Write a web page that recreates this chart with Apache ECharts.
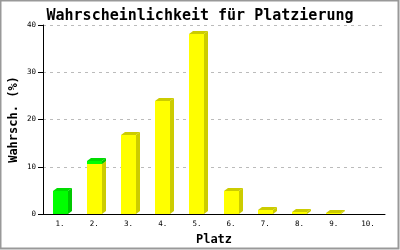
<!DOCTYPE html>
<html>
<head>
<meta charset="utf-8">
<script src="https://cdn.jsdelivr.net/npm/echarts@6/dist/echarts.min.js"></script>
<style>html,body{margin:0;padding:0;background:#fff}#c{width:400px;height:250px}</style>
</head>
<body>
<div id="c"></div>
<script>
var categories = ['1.', '2.', '3.', '4.', '5.', '6.', '7.', '8.', '9.', '10.'];
var yellowValues = [0, 10.6, 16.8, 23.9, 38.1, 4.9, 0.9, 0.4, 0.2, 0];
var greenValues = [4.8, 0.6, 0, 0, 0, 0, 0, 0, 0, 0];
var yTicks = [0, 10, 20, 30, 40];

var MONO = '"DejaVu Sans Mono", "Liberation Mono", monospace';

function makeData(vals, base) {
  return vals.map(function (v, i) {
    var b = base ? base[i] : 0;
    return [i, b, b + v];
  });
}

function render3D(front, side, top) {
  return function (params, api) {
    var i = api.value(0), s = api.value(1), e = api.value(2);
    if (e - s <= 0) return null;
    var p0 = api.coord([i, s]);
    var p1 = api.coord([i, e]);
    var band = api.size([1, 0])[0];
    var w = Math.round(band * 0.44);
    var dx = 4, dy = 3;
    var x = Math.round(p0[0] - w / 2);
    var yb = Math.round(p0[1]), yt = Math.round(p1[1]);
    return {
      type: 'group',
      children: [
        { type: 'polygon', shape: { points: [[x + w, yt], [x + w + dx, yt - dy], [x + w + dx, yb - dy], [x + w, yb]] }, style: { fill: side } },
        { type: 'polygon', shape: { points: [[x, yt], [x + dx, yt - dy], [x + w + dx, yt - dy], [x + w, yt]] }, style: { fill: top } },
        { type: 'rect', shape: { x: x, y: yt, width: w, height: yb - yt }, style: { fill: front } }
      ]
    };
  };
}

var chart = echarts.init(document.getElementById('c'), null, { renderer: 'canvas' });
chart.setOption({
  backgroundColor: '#fff',
  animation: false,
  title: {
    text: 'Wahrscheinlichkeit für Platzierung',
    left: 'center', top: 4,
    textStyle: { fontFamily: MONO, fontWeight: 'bold', fontSize: 15, color: '#000' }
  },
  grid: { left: 43, right: 15, top: 25, bottom: 36, containLabel: false, outerBoundsMode: 'none' },
  xAxis: {
    type: 'category', data: categories,
    name: 'Platz', nameLocation: 'middle', nameGap: 20, nameMoveOverlap: false,
    nameTextStyle: { fontFamily: MONO, fontWeight: 'bold', fontSize: 12, color: '#000' },
    axisLine: { lineStyle: { color: '#000', width: 1 } },
    axisTick: { show: false },
    axisLabel: { fontFamily: MONO, fontSize: 7.5, color: '#000', margin: 6 }
  },
  yAxis: {
    type: 'value', min: 0, max: 40, interval: 10,
    name: 'Wahrsch. (%)', nameLocation: 'middle', nameGap: 23, nameRotate: 90, nameMoveOverlap: false,
    nameTextStyle: { fontFamily: MONO, fontWeight: 'bold', fontSize: 12, color: '#000' },
    axisLine: { show: true, lineStyle: { color: '#000', width: 1 } },
    axisTick: { show: true, length: 5, lineStyle: { color: '#000' } },
    axisLabel: { fontFamily: MONO, fontSize: 7.5, color: '#000', margin: 7,
      formatter: function (v) { return yTicks.indexOf(v) >= 0 ? String(v) : ''; } },
    splitLine: { show: true, lineStyle: { color: '#bbb', type: [3, 4], width: 1 } }
  },
  series: [
    { type: 'custom', renderItem: render3D('#ffff00', '#cccc00', '#cccc00'),
      encode: { x: 0, y: [1, 2] }, data: makeData(yellowValues), z: 2 },
    { type: 'custom', renderItem: render3D('#00ff00', '#00c800', '#00dc00'),
      encode: { x: 0, y: [1, 2] }, data: makeData(greenValues, yellowValues), z: 3 }
  ],
  graphic: [
    { type: 'rect', shape: { x: 0.5, y: 0.5, width: 398, height: 248 }, style: { fill: 'none', stroke: '#999', lineWidth: 2 }, silent: true }
  ]
});
</script>
</body>
</html>
